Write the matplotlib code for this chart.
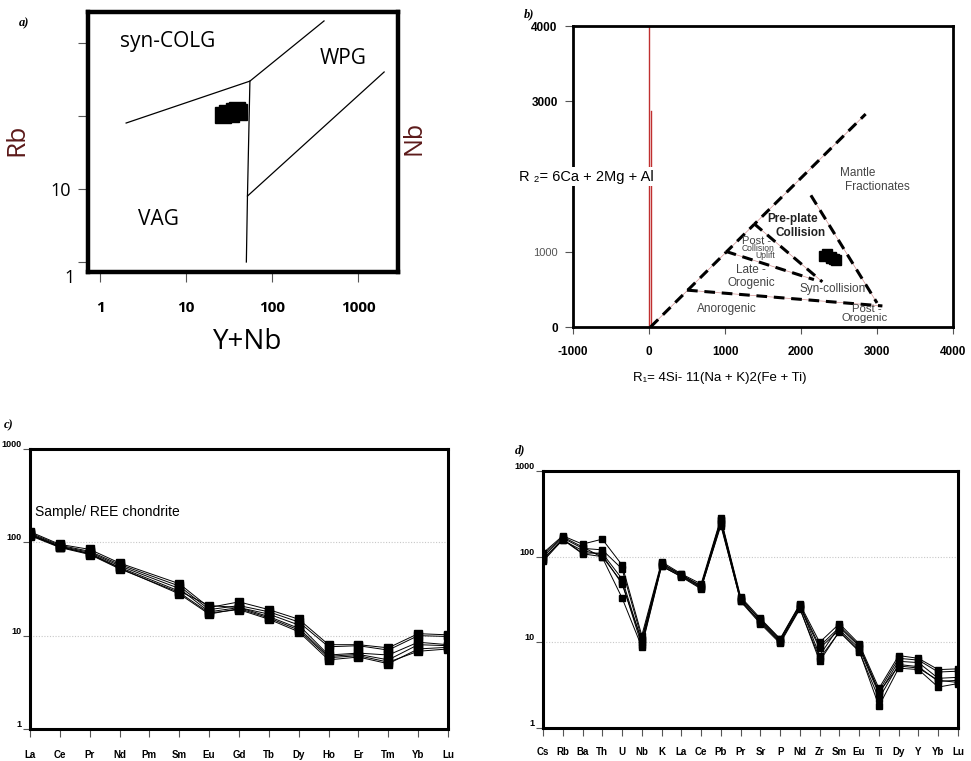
import numpy as np
import matplotlib.pyplot as plt

# ---------------------------------------------------------------
# a) Rb vs Y+Nb discrimination (Pearce et al. 1984)
a_ynb = [27, 30, 33, 36, 39, 41]
a_rb = [102, 110, 106, 118, 121, 112]
a_line1_x = [2, 55, 400]
a_line1_y = [80, 300, 2000]
a_line2_x = [55, 51.5, 50]
a_line2_y = [300, 8, 1]
a_line3_x = [51.5, 2000]
a_line3_y = [8, 400]

# b) R1-R2 diagram (Batchelor & Bowden 1985)
b_r1 = [2300, 2340, 2390, 2430, 2460, 2400]
b_r2 = [950, 965, 930, 900, 885, 920]
b_line1_x = [20, 2850]
b_line1_y = [0, 2830]
b_line2_x = [500, 3070]
b_line2_y = [490, 280]
b_line3_x = [1380, 2280]
b_line3_y = [1375, 600]
b_line4_x = [1010, 2170]
b_line4_y = [1005, 630]
b_line5_x = [2130, 3000]
b_line5_y = [1750, 320]

# c) chondrite normalised REE
ree = ['La', 'Ce', 'Pr', 'Nd', 'Pm', 'Sm', 'Eu', 'Gd', 'Tb', 'Dy', 'Ho', 'Er', 'Tm', 'Yb', 'Lu']
nan = np.nan
ree_1 = [130, 95, 84, 60, nan, 36, 20, 23, 19, 15, 8.0, 8.0, 7.4, 10.5, 10.2]
ree_2 = [126, 93, 80, 58, nan, 34, 19, 21, 18, 14, 7.6, 7.8, 7.0, 10.0, 9.8]
ree_3 = [123, 91, 78, 56, nan, 32, 18, 20, 17, 13, 6.2, 6.5, 6.2, 8.5, 8.0]
ree_4 = [120, 89, 76, 54, nan, 30, 21, 20, 16, 12, 6.0, 6.3, 5.5, 8.0, 7.8]
ree_5 = [118, 88, 74, 52, nan, 29, 17.5, 19, 15, 11, 5.5, 5.9, 5.0, 7.2, 7.5]
ree_6 = [121, 90, 75, 53, nan, 28, 17, 19.5, 15.5, 11.5, 5.8, 6.1, 5.2, 6.8, 7.2]

# d) primitive mantle normalised spider diagram
spd = ['Cs', 'Rb', 'Ba', 'Th', 'U', 'Nb', 'K', 'La', 'Ce', 'Pb', 'Pr', 'Sr', 'P', 'Nd',
       'Zr', 'Sm', 'Eu', 'Ti', 'Dy', 'Y', 'Yb', 'Lu']
spd_1 = [110, 175, 140, 160, 80, 12, 87, 63, 48, 280, 34, 19, 11, 28, 10, 16.5, 9.6, 2.9, 7.0, 6.5, 4.8, 4.9]
spd_2 = [100, 165, 125, 120, 72, 11, 84, 61, 46, 265, 33, 18, 10.5, 27, 9, 15, 9.0, 2.7, 6.5, 6.2, 4.5, 4.6]
spd_3 = [92, 160, 110, 110, 55, 10, 80, 60, 44, 250, 31, 17, 10, 26, 8.5, 14, 8.5, 2.5, 6.0, 5.8, 3.8, 3.9]
spd_4 = [88, 158, 108, 100, 50, 9.2, 78, 58, 42, 240, 30, 16.5, 9.7, 24.5, 6.5, 13.2, 7.8, 2.2, 5.5, 5.2, 3.5, 3.6]
spd_5 = [105, 170, 130, 98, 33, 8.8, 77, 59, 43, 230, 30.5, 17.5, 10.2, 25, 6, 13.5, 8.0, 1.8, 5.0, 4.8, 3.0, 3.3]
spd_6 = [95, 155, 118, 105, 48, 10.5, 82, 62, 45, 270, 32, 18.5, 10.8, 27.5, 7, 15.5, 9.2, 2.6, 5.3, 5.0, 3.6, 3.4]

plt.rcParams['font.family'] = ['Liberation Sans', 'DejaVu Sans']

fig = plt.figure(figsize=(9.71, 7.61), dpi=100)

lab_font = dict(family='Liberation Serif', weight='bold', style='italic', fontsize=9)
dark_red = '#5c1a1a'

# ------------------------------ a) ------------------------------
ax = fig.add_axes([0.0906, 0.6426, 0.3193, 0.3416])
ax.set_xscale('log')
ax.set_yscale('log')
ax.set_xlim(0.72, 2900)
ax.set_ylim(0.73, 2650)
for s in ax.spines.values():
    s.set_linewidth(3.2)
ax.plot(a_line1_x, a_line1_y, color='black', lw=0.9)
ax.plot(a_line2_x, a_line2_y, color='black', lw=0.9)
ax.plot(a_line3_x, a_line3_y, color='black', lw=0.9)
ax.plot(a_ynb, a_rb, 's', color='black', ms=11)
ax.set_xticks([1, 10, 100, 1000])
ax.set_xticklabels(['1', '10', '100', '1000'], fontweight='bold', fontsize=11, family='Open Sans')
ax.set_yticks([1, 10, 100, 1000])
ax.set_yticklabels(['', '10', '', ''], fontsize=13, family='Open Sans')
ax.minorticks_off()
ax.tick_params(axis='x', length=7, width=0.8, color='#555555', pad=14)
ax.tick_params(axis='y', length=7, width=0.8, color='#555555', pad=5)
ax.text(-0.058, -0.025, '1', transform=ax.transAxes, ha='center', va='center',
        fontsize=13, family='Open Sans')
ax.text(0.258, 0.885, 'syn-COLG', transform=ax.transAxes, ha='center', va='center',
        fontsize=15, family='Open Sans')
ax.text(0.822, 0.82, 'WPG', transform=ax.transAxes, ha='center', va='center',
        fontsize=15, family='Open Sans')
ax.text(0.226, 0.2, 'VAG', transform=ax.transAxes, ha='center', va='center',
        fontsize=15, family='Open Sans')
ax.text(-0.23, 0.51, 'Rb', transform=ax.transAxes, rotation=90, ha='center', va='center',
        fontsize=19, color=dark_red, family='Open Sans')
ax.text(1.05, 0.515, 'Nb', transform=ax.transAxes, rotation=90, ha='center', va='center',
        fontsize=18, color=dark_red, family='Open Sans')
ax.text(0.516, -0.27, 'Y+Nb', transform=ax.transAxes, ha='center', va='center',
        fontsize=20, family='Open Sans')
ax.text(-0.205, 0.955, 'a)', transform=ax.transAxes, ha='center', va='center', **lab_font)

# ------------------------------ b) ------------------------------
bx = fig.add_axes([0.5901, 0.5703, 0.3914, 0.3955])
bx.set_xlim(-1000, 4000)
bx.set_ylim(0, 4000)
for s in bx.spines.values():
    s.set_linewidth(2.0)
bx.plot([0, 0], [0, 4000], color='#c03030', lw=1.0)
bx.plot([30, 30], [0, 2870], color='#c03030', lw=1.0)
for lx, ly in [(b_line1_x, b_line1_y), (b_line2_x, b_line2_y), (b_line3_x, b_line3_y),
               (b_line4_x, b_line4_y), (b_line5_x, b_line5_y)]:
    bx.plot(lx, ly, color='#d09090', lw=0.5)
    bx.plot(lx, ly, color='black', lw=2.2, linestyle=(0, (3.5, 2.2)))
bx.plot(b_r1, b_r2, 's', color='black', ms=6.5)
bx.set_xticks([-1000, 0, 1000, 2000, 3000, 4000])
bx.set_xticklabels(['-1000', '0', '1000', '2000', '3000', '4000'], fontweight='bold', fontsize=8.5)
bx.set_yticks([0, 1000, 2000, 3000, 4000])
bx.set_yticklabels(['0', '1000', '', '3000', '4000'], fontweight='bold', fontsize=8.5)
yl = bx.get_yticklabels()[1]
yl.set_fontweight('normal')
yl.set_color('#555555')
yl.set_fontsize(8)
bx.tick_params(axis='x', length=5, width=0.8, color='#555555', pad=9)
bx.tick_params(axis='y', length=6, width=0.8, color='#555555', pad=5)
bx.text(-0.142, 0.5, 'R \u2082= 6Ca + 2Mg + Al', transform=bx.transAxes, ha='left', va='center',
        fontsize=10.5, bbox=dict(facecolor='white', edgecolor='none', pad=2), zorder=5, clip_on=False)
bx.text(0.387, -0.17, 'R\u2081= 4Si- 11(Na + K)2(Fe + Ti)', transform=bx.transAxes,
        ha='center', va='center', fontsize=9.5)
gray = '#444444'
bx.text(2740, 2050, 'Mantle', ha='center', va='center', fontsize=8.5, color=gray)
bx.text(3000, 1855, 'Fractionates', ha='center', va='center', fontsize=8.5, color=gray)
bx.text(1890, 1430, 'Pre-plate', ha='center', va='center', fontsize=8.5, fontweight='bold', color='#222222')
bx.text(2000, 1255, 'Collision', ha='center', va='center', fontsize=8.5, fontweight='bold', color='#222222')
bx.text(1410, 1140, 'Post -', ha='center', va='center', fontsize=8, color=gray)
bx.text(1440, 1040, 'Collision', ha='center', va='center', fontsize=6.2, color=gray)
bx.text(1530, 945, 'Uplift', ha='center', va='center', fontsize=6.2, color=gray)
bx.text(1340, 760, 'Late -', ha='center', va='center', fontsize=8.5, color=gray)
bx.text(1340, 585, 'Orogenic', ha='center', va='center', fontsize=8.5, color=gray)
bx.text(2410, 505, 'Syn-collision', ha='center', va='center', fontsize=8.5, color=gray)
bx.text(1020, 240, 'Anorogenic', ha='center', va='center', fontsize=8.5, color=gray)
bx.text(2860, 235, 'Post -', ha='center', va='center', fontsize=8.2, color=gray)
bx.text(2840, 115, 'Orogenic', ha='center', va='center', fontsize=8.2, color=gray)
bx.text(-0.115, 1.04, 'b)', transform=bx.transAxes, ha='center', va='center', **lab_font)


def spider(axx, names, series, ms, pad):
    xs = np.arange(len(names))
    for ser in series:
        v = np.array(ser, dtype=float)
        ok = ~np.isnan(v)
        axx.plot(xs[ok], v[ok], color='black', lw=0.7, marker='s', ms=ms,
                 mfc='black', mec='black', zorder=3)
    axx.set_yscale('log')
    axx.set_ylim(1, 1000)
    axx.set_xlim(0, len(names) - 1)
    axx.set_xticks(xs)
    axx.set_xticklabels(names, fontweight='bold', fontsize=7)
    axx.set_yticks([1, 10, 100, 1000])
    axx.set_yticklabels(['1', '10', '100', '1000'], fontweight='bold', fontsize=6.5)
    axx.minorticks_off()
    for yv in [10, 100]:
        axx.axhline(yv, color='#c8c8c8', lw=0.8, linestyle=(0, (1, 1.5)), zorder=1)
    for s in axx.spines.values():
        s.set_linewidth(2.2)
        s.set_zorder(4)
    axx.tick_params(axis='x', length=6, width=0.8, color='#555555', pad=pad)
    axx.tick_params(axis='y', length=5, width=0.8, color='#555555', pad=1)


# ------------------------------ c) ------------------------------
cx = fig.add_axes([0.0309, 0.0421, 0.4305, 0.3679])
spider(cx, ree, [ree_1, ree_2, ree_3, ree_4, ree_5, ree_6], 6, 9.5)
for t in cx.get_yticklabels():
    t.set_verticalalignment('bottom')
cx.text(0.012, 0.775, 'Sample/ REE chondrite', transform=cx.transAxes, ha='left', va='center',
        fontsize=10)
cx.text(-0.05, 1.085, 'c)', transform=cx.transAxes, ha='center', va='center', **lab_font)

# ------------------------------ d) ------------------------------
dx = fig.add_axes([0.5592, 0.0434, 0.4274, 0.3377])
spider(dx, spd, [spd_1, spd_2, spd_3, spd_4, spd_5, spd_6], 4.8, 8)
for t in dx.get_yticklabels():
    t.set_verticalalignment('bottom')
dx.text(-0.055, 1.08, 'd)', transform=dx.transAxes, ha='center', va='center', **lab_font)

fig.savefig('out.png', dpi=100)
